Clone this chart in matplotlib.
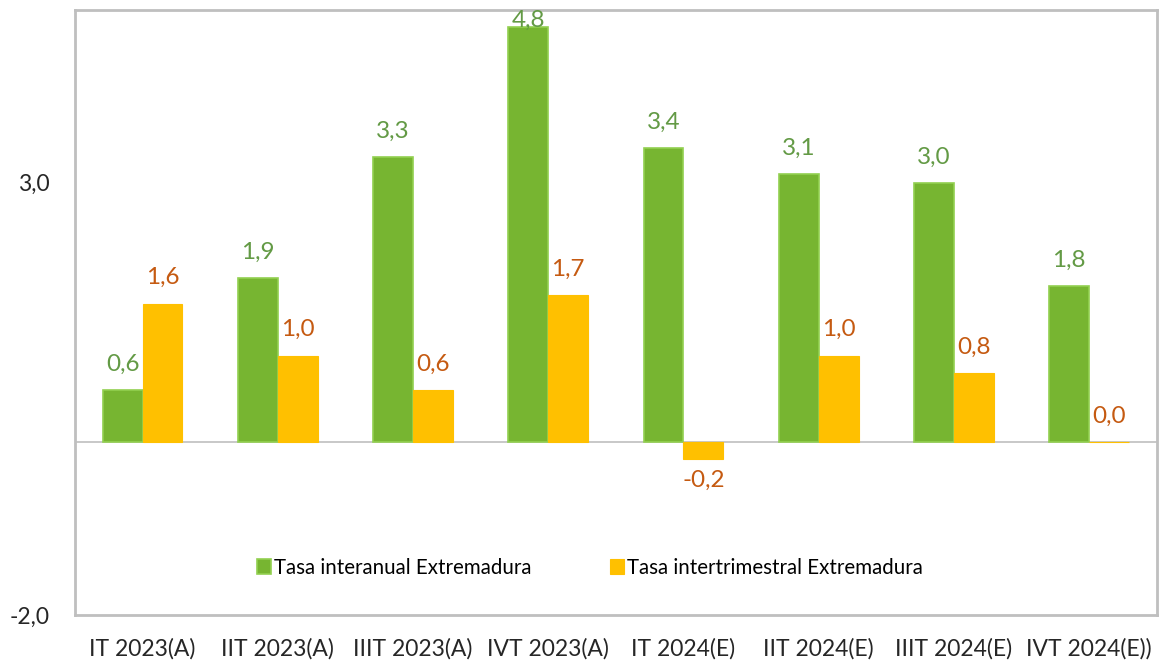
import numpy as np
import matplotlib
matplotlib.use("Agg")
from matplotlib import pyplot as plt

categories = ["IT 2023(A)", "IIT 2023(A)", "IIIT 2023(A)", "IVT 2023(A)",
              "IT 2024(E)", "IIT 2024(E)", "IIIT 2024(E)", "IVT 2024(E))"]
interanual = [0.6, 1.9, 3.3, 4.8, 3.4, 3.1, 3.0, 1.8]
intertrimestral = [1.6, 1.0, 0.6, 1.7, -0.2, 1.0, 0.8, 0.0]
series_names = ["Tasa interanual Extremadura", "Tasa intertrimestral Extremadura"]
yticks = [-2.0, 3.0]

GREEN = "#77B531"
GREEN_EDGE = "#92D050"
ORANGE = "#FFC000"
GREEN_TXT = "#639A45"
ORANGE_TXT = "#C55A11"
YMIN, YMAX = -2, 5


def fmt(v):
    return f"{v:.1f}".replace(".", ",")


def label_bars(ax, bars, values, color):
    for rect, v in zip(bars, values):
        xc = rect.get_x() + rect.get_width() / 2
        if v < 0:
            off = -20
        elif v + 0.4 > YMAX:
            off = 0  # keep it inside the chart like excel does
        else:
            off = 14
        ax.annotate(fmt(v), (xc, v), xytext=(0, off), textcoords="offset points",
                    ha="center", va="baseline", fontsize=17.5, color=color,
                    annotation_clip=False)


def main():
    plt.rcParams["font.family"] = ["Lato", "DejaVu Sans"]
    fig = plt.figure(figsize=(11.62, 6.64), dpi=100)
    ax = fig.add_axes([0.0645, 0.074, 0.931, 0.911])

    x = np.arange(len(categories))
    w = 0.295
    b1 = ax.bar(x - w / 2, interanual, w, color=GREEN, edgecolor=GREEN_EDGE,
                linewidth=1.2, label=series_names[0], zorder=3)
    b2 = ax.bar(x + w / 2, intertrimestral, w, color=ORANGE, edgecolor=ORANGE,
                linewidth=0.8, label=series_names[1], zorder=3)

    label_bars(ax, b1, interanual, GREEN_TXT)
    label_bars(ax, b2, intertrimestral, ORANGE_TXT)

    ax.axhline(0, color="#BFBFBF", linewidth=1.2, zorder=2)
    ax.set_xlim(-0.5, len(categories) - 0.5)
    ax.set_ylim(YMIN, YMAX)
    ax.set_yticks(yticks)
    ax.set_yticklabels([fmt(v) for v in yticks])
    ax.set_xticks(x)
    ax.set_xticklabels(categories)
    ax.tick_params(axis="both", length=0, labelsize=16.5, colors="#262626")
    ax.tick_params(axis="x", pad=17)
    ax.tick_params(axis="y", pad=18)
    for s in ax.spines.values():
        s.set_color("#BFBFBF")
        s.set_linewidth(2)

    ax.legend(loc="center", bbox_to_anchor=(0.476, 0.078), ncol=2, frameon=False,
              fontsize=14.8, handlelength=0.7, handleheight=0.7,
              handletextpad=0.15, columnspacing=3.8)

    fig.savefig("out.png", dpi=100)


if __name__ == "__main__":
    main()
